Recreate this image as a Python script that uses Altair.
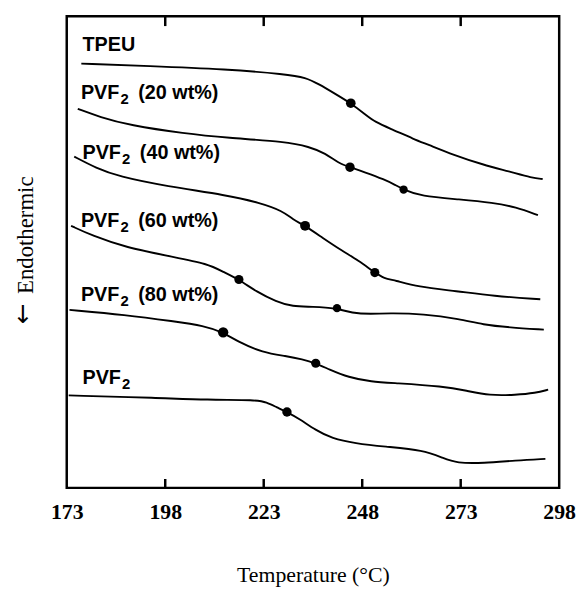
import altair as alt
import pandas as pd

# ---- curve data (temperature in °C, signal in arbitrary units, endo down) ----
tpeu_t = [176.7, 193.6, 213.7, 228.7, 233.7, 237.0, 241.2, 245.1, 248.6, 251.2, 255.8, 261.2, 264.5, 271.2, 278.7, 285.3, 291.2, 293.8]
tpeu_y = [429.0, 426.7, 423.3, 418.3, 415.0, 408.3, 398.3, 389.0, 378.3, 370.0, 362.2, 352.5, 347.5, 336.7, 326.7, 320.0, 313.3, 312.3]

w20_t = [175.8, 181.4, 188.9, 202.9, 213.7, 228.7, 234.5, 238.7, 242.0, 244.9, 248.6, 253.7, 256.2, 258.5, 262.8, 272.8, 281.2, 287.0, 292.6]
w20_y = [383.3, 375.0, 366.7, 358.3, 354.0, 350.0, 345.0, 338.3, 328.3, 324.3, 319.3, 311.7, 306.7, 301.7, 295.0, 291.7, 288.3, 284.0, 275.7]

w40_t = [174.9, 180.5, 186.1, 198.3, 213.7, 222.0, 227.8, 230.3, 233.5, 237.8, 242.8, 247.0, 251.2, 253.6, 256.2, 262.0, 272.0, 281.2, 293.2]
w40_y = [335.0, 323.3, 315.0, 305.0, 296.0, 288.3, 280.0, 271.7, 265.0, 253.3, 240.0, 230.0, 217.7, 211.7, 210.0, 203.3, 199.0, 194.0, 190.7]

w60_t = [174.1, 179.5, 187.8, 200.3, 208.7, 212.8, 216.7, 221.2, 226.2, 230.3, 235.3, 241.6, 245.3, 250.3, 254.5, 263.6, 272.8, 278.7, 285.3, 294.1]
w60_y = [265.0, 255.0, 243.3, 233.3, 226.7, 218.3, 210.7, 198.3, 188.3, 183.3, 183.3, 181.7, 176.7, 175.7, 176.7, 176.0, 170.7, 165.0, 162.3, 160.0]

w80_t = [173.7, 187.8, 200.3, 207.8, 212.7, 216.2, 222.8, 228.7, 232.8, 236.2, 239.5, 244.5, 250.3, 256.2, 268.6, 274.5, 280.3, 287.0, 292.0, 295.2]
w80_y = [180.0, 175.0, 168.3, 164.0, 157.3, 148.3, 136.7, 133.3, 130.0, 126.0, 120.0, 111.7, 107.3, 106.0, 102.7, 98.3, 93.3, 94.0, 96.0, 99.3]

pvf_t = [173.5, 196.2, 208.7, 221.2, 223.7, 226.2, 228.9, 232.0, 236.2, 240.3, 246.2, 253.6, 263.6, 268.6, 272.0, 278.7, 287.0, 294.5]
pvf_y = [93.5, 91.0, 89.0, 89.0, 86.7, 81.7, 76.7, 70.0, 58.3, 50.0, 45.0, 41.7, 38.3, 30.0, 25.0, 25.0, 27.7, 29.3]

series_names = ["TPEU", "PVF2 (20 wt%)", "PVF2 (40 wt%)", "PVF2 (60 wt%)", "PVF2 (80 wt%)", "PVF2"]
series_t = [tpeu_t, w20_t, w40_t, w60_t, w80_t, pvf_t]
series_y = [tpeu_y, w20_y, w40_y, w60_y, w80_y, pvf_y]

# ---- marked transition points ----
dot_series = ["TPEU", "PVF2 (20 wt%)", "PVF2 (20 wt%)", "PVF2 (40 wt%)", "PVF2 (40 wt%)",
              "PVF2 (60 wt%)", "PVF2 (60 wt%)", "PVF2 (80 wt%)", "PVF2 (80 wt%)", "PVF2"]
dot_t = [245.1, 244.9, 258.5, 233.5, 251.2, 216.7, 241.6, 212.7, 236.2, 228.9]
dot_y = [389.0, 324.3, 301.7, 265.0, 217.7, 210.7, 181.7, 157.3, 126.0, 76.7]
dot_size = [95, 90, 70, 100, 85, 85, 70, 110, 85, 90]

# ---- curve labels ----
label_main = ["TPEU", "PVF", "PVF", "PVF", "PVF", "PVF"]
label_sub = ["", "2", "2", "2", "2", "2"]
label_rest = ["", "(20 wt%)", "(40 wt%)", "(60 wt%)", "(80 wt%)", ""]
label_t = [177.0, 176.6, 177.0, 176.6, 176.6, 177.0]
label_y = [442.0, 393.0, 333.0, 264.0, 189.0, 105.0]

x_ticks = [173, 198, 223, 248, 273, 298]
inner_ticks = [198, 223, 248, 273]
y_title = "Endothermic"
y_arrow = ["↓"]   # the rotated "←" of the y-axis title

rows = []
for name, ts, ys in zip(series_names, series_t, series_y):
    for t, y in zip(ts, ys):
        rows.append({"series": name, "t": t, "y": y})
lines_df = pd.DataFrame(rows)
dots_df = pd.DataFrame({"series": dot_series, "t": dot_t, "y": dot_y, "size": dot_size})
labels_df = pd.DataFrame({"main": label_main, "sub": label_sub, "rest": label_rest,
                          "t": label_t, "y": label_y})
ticks_df = pd.DataFrame({"t": inner_ticks})
arrow_df = pd.DataFrame({"a": y_arrow})

W, H = 498, 477

xscale = alt.Scale(domain=[173, 298], nice=False, zero=False)
yscale = alt.Scale(domain=[0, 477], nice=False, zero=False)

x_axis = alt.Axis(values=x_ticks, title="Temperature (°C)", grid=False, ticks=False, domain=False,
                  labelFont="Liberation Serif", labelFontWeight="bold", labelFontSize=22,
                  labelColor="black", labelPadding=14, labelFlush=False, labelOverlap=False,
                  titleFont="Liberation Serif", titleFontWeight="normal", titleFontSize=22,
                  titleColor="black", titleY=95, titleBaseline="alphabetic")
y_axis = alt.Axis(title=y_title, grid=False, ticks=False, domain=False, labels=False,
                  titleFont="Liberation Serif", titleFontWeight="normal", titleFontSize=23,
                  titleColor="black", titleAngle=-90, titleX=-35, titleY=221,
                  titleAlign="center", titleBaseline="alphabetic")

base_x = alt.X("t:Q", scale=xscale, axis=x_axis)
base_y = alt.Y("y:Q", scale=yscale, axis=y_axis)

lines = alt.Chart(lines_df).mark_line(color="black", strokeWidth=1.9, interpolate="basis").encode(
    x=base_x, y=base_y, detail="series:N")

dots = alt.Chart(dots_df).mark_circle(color="black", opacity=1).encode(
    x=alt.X("t:Q", scale=xscale), y=alt.Y("y:Q", scale=yscale),
    size=alt.Size("size:Q", scale=None, legend=None))

ticks_bottom = alt.Chart(ticks_df).mark_rule(color="black", strokeWidth=2.5).encode(
    x=alt.X("t:Q", scale=xscale), y=alt.value(H), y2=alt.value(H - 9))
ticks_top = alt.Chart(ticks_df).mark_rule(color="black", strokeWidth=2.5).encode(
    x=alt.X("t:Q", scale=xscale), y=alt.value(0), y2=alt.value(10))

arrow = alt.Chart(arrow_df).mark_text(
    font="DejaVu Sans", fontSize=25, align="center", baseline="middle",
    color="black").encode(x=alt.value(-44), y=alt.value(302), text="a:N")

txt_main = alt.Chart(labels_df).mark_text(
    font="Liberation Sans", fontWeight="bold", fontSize=20, align="left", baseline="alphabetic",
    color="black").encode(x=alt.X("t:Q", scale=xscale), y=alt.Y("y:Q", scale=yscale), text="main:N")
txt_sub = alt.Chart(labels_df).mark_text(
    font="Liberation Sans", fontWeight="bold", fontSize=15, align="left", baseline="alphabetic",
    color="black", dx=40, dy=5).encode(x=alt.X("t:Q", scale=xscale), y=alt.Y("y:Q", scale=yscale), text="sub:N")
txt_rest = alt.Chart(labels_df).mark_text(
    font="Liberation Sans", fontWeight="bold", fontSize=20, align="left", baseline="alphabetic",
    color="black", dx=58).encode(x=alt.X("t:Q", scale=xscale), y=alt.Y("y:Q", scale=yscale), text="rest:N")

chart = alt.layer(lines, dots, ticks_bottom, ticks_top, arrow, txt_main, txt_sub, txt_rest).properties(
    width=W, height=H,
    padding={"left": 59.4, "top": 5, "right": 17, "bottom": 100},
    autosize=alt.AutoSizeParams(type="none"),
    background="white",
).configure_view(stroke="black", strokeWidth=2.5)

chart.save("out.html", embed_options={"renderer": "svg", "actions": False})
